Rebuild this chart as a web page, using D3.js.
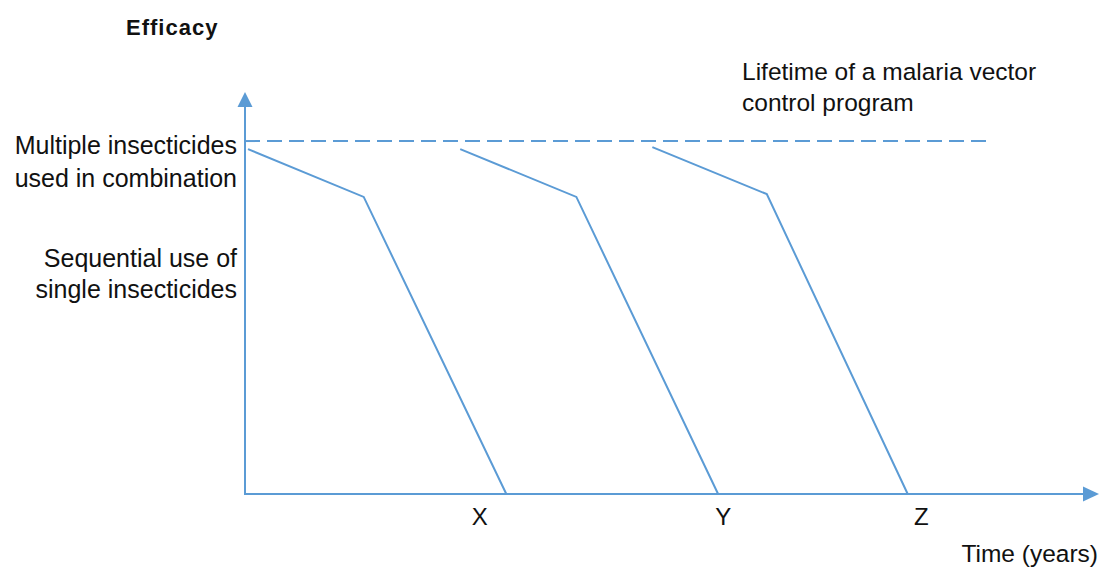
<!DOCTYPE html>
<html>
<head>
<meta charset="utf-8">
<script src="https://cdn.jsdelivr.net/npm/d3@7"></script>
<style>
  html, body { margin: 0; padding: 0; background: #fff; }
  svg { display: block; }
  text { font-family: "Liberation Sans", Arial, Helvetica, sans-serif; fill: #111; }
</style>
</head>
<body>
<svg id="chart" width="1103" height="567"></svg>
<script>
// ---- Data (time in arbitrary units 0-100, efficacy 0-100) ----
const seriesNames = ["Insecticide X", "Insecticide Y", "Insecticide Z"];
const seriesX = [
  [0.35, 13.9, 30.6],
  [25.2, 38.8, 55.4],
  [47.7, 61.1, 77.6]
];
const seriesEfficacy = [
  [85.8, 73.9, 0],
  [85.8, 73.9, 0],
  [86.3, 74.6, 0]
];
const tickLabels = ["X", "Y", "Z"];
const tickValues = [27.5, 56.0, 79.2];
const combinationLevel = 87.8;      // dashed line: multiple insecticides in combination
const programLifetimeEnd = 86.9;    // dashed line end (lifetime of program)
const yLabelLines = [
  ["Multiple insecticides", "used in combination"],
  ["Sequential use of", "single insecticides"]
];

// ---- Layout ----
const svg = d3.select("#chart");
const color = "#5b9bd5";
const x = d3.scaleLinear().domain([0, 100]).range([245, 1099]);
const y = d3.scaleLinear().domain([0, 100]).range([494, 92]);

// Axes
const axisG = svg.append("g");
axisG.append("line")
  .attr("x1", x(0)).attr("y1", y(0))
  .attr("x2", x(0)).attr("y2", y(100) + 12)
  .attr("stroke", color).attr("stroke-width", 2);
axisG.append("path")
  .attr("d", `M${x(0)},${y(100)} L${x(0) - 7.5},${y(100) + 15} L${x(0) + 7.5},${y(100) + 15} Z`)
  .attr("fill", color);
axisG.append("line")
  .attr("x1", x(0) - 1).attr("y1", y(0))
  .attr("x2", x(100) - 12).attr("y2", y(0))
  .attr("stroke", color).attr("stroke-width", 2);
axisG.append("path")
  .attr("d", `M${x(100)},${y(0)} L${x(100) - 16},${y(0) - 7.5} L${x(100) - 16},${y(0) + 7.5} Z`)
  .attr("fill", color);

// Dashed combination line
svg.append("line")
  .attr("x1", x(0)).attr("y1", y(combinationLevel))
  .attr("x2", x(programLifetimeEnd)).attr("y2", y(combinationLevel))
  .attr("stroke", color).attr("stroke-width", 2)
  .attr("stroke-dasharray", "15,7");

// Series lines
const line = d3.line().x(d => x(d[0])).y(d => y(d[1]));
seriesNames.forEach((name, i) => {
  const pts = seriesX[i].map((v, j) => [v, seriesEfficacy[i][j]]);
  svg.append("path")
    .datum(pts)
    .attr("d", line)
    .attr("fill", "none")
    .attr("stroke", color)
    .attr("stroke-width", 2)
    .attr("stroke-linejoin", "miter");
});

// Tick labels
svg.selectAll("text.tick")
  .data(tickLabels)
  .enter().append("text")
  .attr("class", "tick")
  .attr("x", (d, i) => x(tickValues[i]))
  .attr("y", 525)
  .attr("text-anchor", "middle")
  .style("font-size", "24px")
  .text(d => d);

// Y-axis level labels
const fs = 24.5;
const labelBaselines = [[154, 187], [267, 298]];
yLabelLines.forEach((lines, i) => {
  lines.forEach((t, j) => {
    svg.append("text")
      .attr("x", 237)
      .attr("y", labelBaselines[i][j])
      .attr("text-anchor", "end")
      .style("font-size", "25px")
      .text(t);
  });
});

// Titles
svg.append("text")
  .attr("x", 126).attr("y", 35)
  .style("font-size", "22px").style("font-weight", "bold")
  .style("letter-spacing", "1px")
  .text("Efficacy");

svg.append("text")
  .attr("x", 742).attr("y", 80)
  .style("font-size", fs + "px")
  .text("Lifetime of a malaria vector");
svg.append("text")
  .attr("x", 742).attr("y", 111)
  .style("font-size", fs + "px")
  .text("control program");

svg.append("text")
  .attr("x", 1098).attr("y", 562)
  .attr("text-anchor", "end")
  .style("font-size", fs + "px")
  .text("Time (years)");
</script>
</body>
</html>
